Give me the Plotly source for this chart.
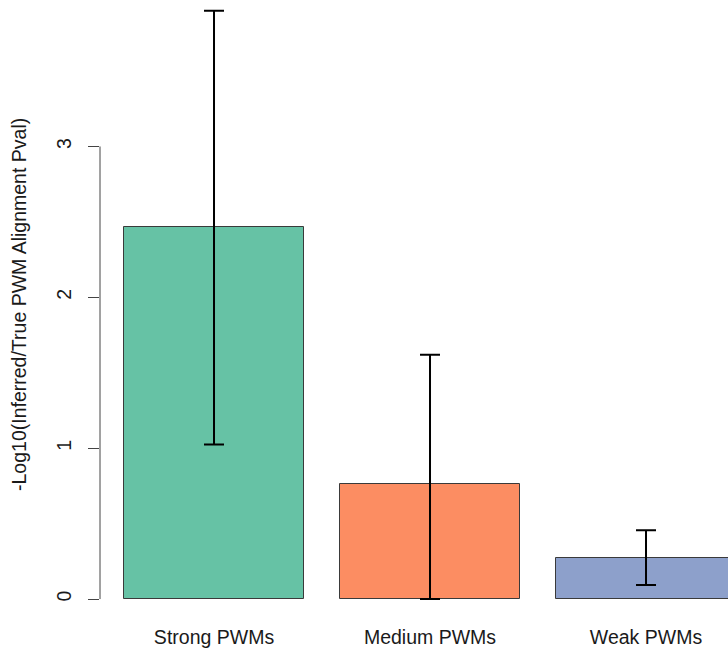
import plotly.graph_objects as go

categories = ["Strong PWMs", "Medium PWMs", "Weak PWMs"]
means = [2.465, 0.760, 0.271]
upper = [3.899, 1.619, 0.456]
lower = [1.024, 0.0, 0.093]
colors = ["#66C2A5", "#FC8D62", "#8DA0CB"]
y_ticks = [0, 1, 2, 3]
y_title = "-Log10(Inferred/True PWM Alignment Pval)"

err_plus = [u - m for u, m in zip(upper, means)]
err_minus = [m - l for m, l in zip(means, lower)]
xpos = list(range(len(categories)))

FONT = "Liberation Sans, Arial, Helvetica, sans-serif"
FS = 19.5

fig = go.Figure()
fig.add_trace(go.Bar(
    x=xpos, y=means, width=0.8333,
    marker=dict(color=colors, line=dict(color="#3a3a3a", width=1)),
    error_y=dict(type="data", symmetric=False, array=err_plus, arrayminus=err_minus,
                 color="#000000", thickness=2, width=10),
    showlegend=False,
))

fig.update_layout(
    width=728, height=648,
    margin=dict(l=100, r=0, t=0, b=28),
    paper_bgcolor="white", plot_bgcolor="white",
    font=dict(family=FONT, size=FS, color="#1a1a1a"),
    bargap=0,
    xaxis=dict(range=[-0.5278, 2.3796], tickvals=xpos, ticktext=categories,
               showline=False, showgrid=False, zeroline=False,
               ticks="outside", ticklen=2, tickcolor="rgba(0,0,0,0)",
               tickfont=dict(size=FS, family=FONT, color="#1a1a1a")),
    yaxis=dict(range=[-0.1256, 3.971], tickvals=y_ticks,
               showline=False, showgrid=False, zeroline=False,
               ticks="outside", ticklen=11, tickcolor="#444444", tickwidth=1,
               tickangle=-90, ticklabelstandoff=9,
               tickfont=dict(size=FS, family=FONT, color="#1a1a1a")),
    shapes=[dict(type="line", xref="paper", yref="y", x0=0, x1=0, y0=0, y1=3,
                 line=dict(color="#444444", width=1))],
    annotations=[dict(text=y_title, xref="paper", yref="y",
                      x=(19 - 100) / 628, y=(601 - 306) / 151.33,
                      xanchor="center", yanchor="middle", textangle=-90,
                      showarrow=False, font=dict(size=FS, family=FONT, color="#1a1a1a"))],
)

fig.write_html("out.html", config={"displayModeBar": False},
               post_script="document.body.style.margin='0';document.body.style.overflow='hidden';")
